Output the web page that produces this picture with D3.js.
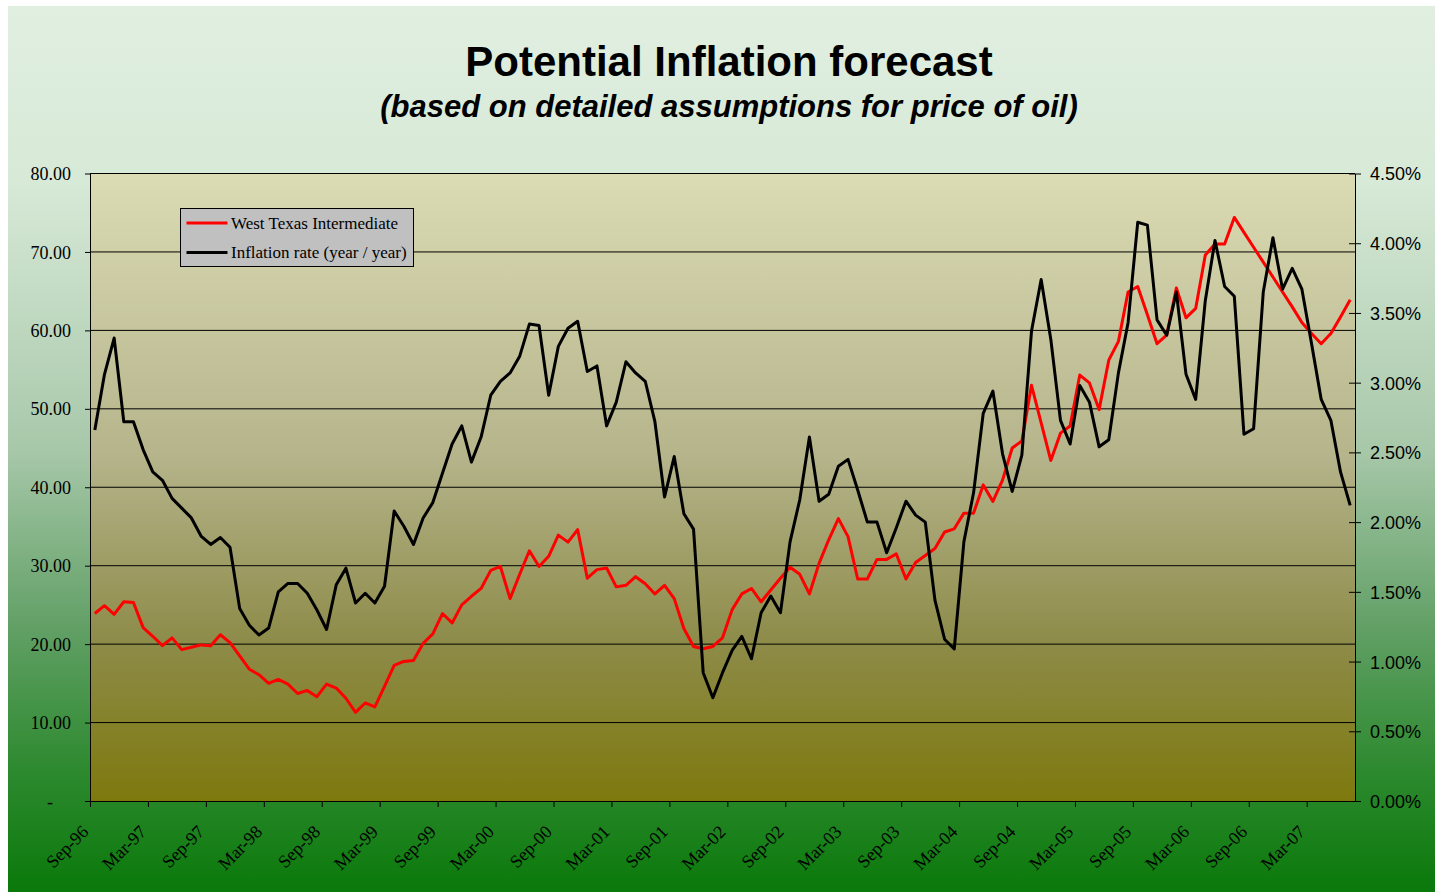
<!DOCTYPE html>
<html><head><meta charset="utf-8">
<script src="https://cdn.jsdelivr.net/npm/d3@7"></script>
<style>html,body{margin:0;padding:0;background:#fff;} svg{display:block;}</style>
</head><body>
<svg id="chart" width="1435" height="892"></svg>
<script>
// ---------- data ----------
const seriesNames = ["West Texas Intermediate", "Inflation rate (year / year)"];
const startMonth = new Date(1996, 8, 1);   // Sep-96
const endMonth = new Date(2007, 7, 1);     // exclusive -> last category Jul-07
const categories = d3.timeMonth.range(startMonth, endMonth);

const wti = [
  23.9, 24.9, 23.8, 25.4, 25.3, 22.1, 21.0, 19.8, 20.8, 19.3,
  19.6, 19.9, 19.8, 21.2, 20.2, 18.5, 16.8, 16.1, 15.0, 15.5,
  14.9, 13.7, 14.1, 13.3, 14.9, 14.4, 13.1, 11.3, 12.5, 12.0,
  14.6, 17.3, 17.8, 17.9, 20.1, 21.3, 23.9, 22.7, 25.0, 26.1,
  27.1, 29.4, 29.9, 25.8, 28.9, 31.9, 29.9, 31.2, 33.9, 33.0,
  34.6, 28.4, 29.5, 29.7, 27.3, 27.5, 28.6, 27.7, 26.4, 27.5,
  25.8, 22.0, 19.7, 19.4, 19.7, 20.8, 24.4, 26.4, 27.1, 25.4,
  26.9, 28.4, 29.8, 28.9, 26.4, 30.3, 33.3, 36.0, 33.7, 28.3,
  28.3, 30.8, 30.8, 31.5, 28.3, 30.4, 31.3, 32.2, 34.3, 34.7,
  36.7, 36.7, 40.3, 38.2, 40.9, 45.0, 45.9, 53.0, 48.2, 43.4,
  46.9, 47.8, 54.3, 53.3, 49.9, 56.2, 58.6, 64.9, 65.6, 62.0,
  58.3, 59.4, 65.4, 61.6, 62.8, 69.6, 71.0, 71.0, 74.4, 72.5,
  70.6, 68.7, 66.8, 64.9, 63.0, 61.0, 59.6, 58.3, 59.6, 61.7,
  63.9
];

const inflation = [
  2.66, 3.06, 3.32, 2.72, 2.72, 2.52, 2.36, 2.30, 2.17, 2.10,
  2.03, 1.90, 1.84, 1.89, 1.82, 1.38, 1.26, 1.19, 1.24, 1.50,
  1.56, 1.56, 1.49, 1.37, 1.23, 1.55, 1.67, 1.42, 1.49, 1.42,
  1.54, 2.08, 1.97, 1.84, 2.03, 2.14, 2.35, 2.56, 2.69, 2.43,
  2.61, 2.91, 3.01, 3.07, 3.19, 3.42, 3.41, 2.91, 3.26, 3.39,
  3.44, 3.08, 3.12, 2.69, 2.86, 3.15, 3.07, 3.01, 2.72, 2.18,
  2.47, 2.06, 1.95, 0.92, 0.74, 0.92, 1.08, 1.18, 1.02, 1.35,
  1.47, 1.35, 1.86, 2.16, 2.61, 2.15, 2.20, 2.40, 2.45, 2.23,
  2.00, 2.00, 1.78, 1.96, 2.15, 2.05, 2.00, 1.44, 1.16, 1.09,
  1.86, 2.21, 2.78, 2.94, 2.49, 2.22, 2.48, 3.37, 3.74, 3.31,
  2.73, 2.56, 2.98, 2.86, 2.54, 2.59, 3.07, 3.43, 4.15, 4.13,
  3.45, 3.34, 3.65, 3.06, 2.88, 3.59, 4.02, 3.69, 3.62, 2.63,
  2.67, 3.65, 4.04, 3.67, 3.82, 3.67, 3.28, 2.88, 2.73, 2.36,
  2.12
];

const xTickLabels = ["Sep-96","Mar-97","Sep-97","Mar-98","Sep-98","Mar-99","Sep-99","Mar-00",
  "Sep-00","Mar-01","Sep-01","Mar-02","Sep-02","Mar-03","Sep-03","Mar-04","Sep-04","Mar-05",
  "Sep-05","Mar-06","Sep-06","Mar-07"];
const leftTickValues = [0, 10, 20, 30, 40, 50, 60, 70, 80];
const leftTickLabels = ["-", "10.00", "20.00", "30.00", "40.00", "50.00", "60.00", "70.00", "80.00"];
const rightTickValues = [0, 0.5, 1, 1.5, 2, 2.5, 3, 3.5, 4, 4.5];
const rightTickLabels = ["0.00%","0.50%","1.00%","1.50%","2.00%","2.50%","3.00%","3.50%","4.00%","4.50%"];

// ---------- layout ----------
const W = 1435, H = 892;
const plot = {left: 90, right: 1355, top: 173.5, bottom: 801};
const svg = d3.select("#chart");
const defs = svg.append("defs");

const bgGrad = defs.append("linearGradient").attr("id","bgGrad").attr("x1",0).attr("y1",0).attr("x2",0).attr("y2",1);
[[0,"#e1efe1"],[0.2,"#d7e9d7"],[0.5,"#a8c8aa"],[0.7,"#62a066"],[0.86,"#2e8a30"],[1,"#0a790a"]]
  .forEach(([o,c]) => bgGrad.append("stop").attr("offset",o).attr("stop-color",c));
const plotGrad = defs.append("linearGradient").attr("id","plotGrad").attr("x1",0).attr("y1",0).attr("x2",0).attr("y2",1);
[[0,"#dbdbb4"],[0.45,"#b5b48b"],[0.75,"#8d8b48"],[1,"#7e790e"]]
  .forEach(([o,c]) => plotGrad.append("stop").attr("offset",o).attr("stop-color",c));

svg.append("rect").attr("x",8).attr("y",6).attr("width",W-8).attr("height",H-6).attr("fill","url(#bgGrad)");
svg.append("rect").attr("x",plot.left).attr("y",plot.top)
  .attr("width",plot.right-plot.left).attr("height",plot.bottom-plot.top).attr("fill","url(#plotGrad)");

// ---------- scales ----------
const x = d3.scaleLinear().domain([0, categories.length]).range([plot.left, plot.right]);
const yL = d3.scaleLinear().domain([0, 80]).range([plot.bottom, plot.top]);
const yR = d3.scaleLinear().domain([0, 4.5]).range([plot.bottom, plot.top]);

// gridlines
svg.append("g").selectAll("line").data(leftTickValues.filter(d => d > 0)).join("line")
  .attr("x1", plot.left).attr("x2", plot.right)
  .attr("y1", d => yL(d)).attr("y2", d => yL(d))
  .attr("stroke", "#000").attr("stroke-width", 1);

// ---------- axes ----------
const serif = "'Liberation Serif','Times New Roman',serif";
const sans = "'Liberation Sans',Arial,sans-serif";

const gL = svg.append("g").attr("transform", `translate(${plot.left},0)`)
  .call(d3.axisLeft(yL).tickValues(leftTickValues).tickFormat((d,i) => leftTickLabels[i]).tickSize(5).tickSizeOuter(0).tickPadding(14));
gL.selectAll("text").attr("font-family", serif).attr("font-size", 18).attr("fill","#000").attr("dy","0.34em");
gL.selectAll(".tick").filter(d => d === 0).select("text").attr("x", -37);

const gR = svg.append("g").attr("transform", `translate(${plot.right},0)`)
  .call(d3.axisRight(yR).tickValues(rightTickValues).tickFormat((d,i) => rightTickLabels[i]).tickSize(6).tickSizeOuter(0).tickPadding(9));
gR.selectAll(".tick line").attr("x1", -6);
gR.selectAll("text").attr("font-family", sans).attr("font-size", 18).attr("fill","#000").attr("dy","0.36em");

const xTickIdx = d3.range(0, categories.length, 6);
const gX = svg.append("g").attr("transform", `translate(0,${plot.bottom})`)
  .call(d3.axisBottom(x).tickValues(xTickIdx).tickFormat((d,i) => xTickLabels[i]).tickSize(6).tickSizeOuter(0));
gX.selectAll("text").attr("font-family", serif).attr("font-size", 18).attr("fill","#000")
  .attr("x", 0).attr("y", 0).attr("dy", 0).attr("text-anchor","end")
  .attr("transform","translate(-1,32) rotate(-45)");

[gL, gR, gX].forEach(g => {
  g.select(".domain").attr("stroke","#000").attr("stroke-width",1);
  g.selectAll(".tick line").attr("stroke","#000").attr("stroke-width",1);
});

// ---------- lines ----------
const lineW = d3.line().x((d,i) => x(i + 0.5)).y(d => yL(d));
const lineI = d3.line().x((d,i) => x(i + 0.5)).y(d => yR(d));
svg.append("path").datum(wti).attr("d", lineW).attr("fill","none")
  .attr("stroke","#ff0000").attr("stroke-width",3).attr("stroke-linejoin","round");
svg.append("path").datum(inflation).attr("d", lineI).attr("fill","none")
  .attr("stroke","#000").attr("stroke-width",3).attr("stroke-linejoin","round");

// ---------- legend ----------
const lg = svg.append("g").attr("transform","translate(180.5,208.5)");
lg.append("rect").attr("width",233).attr("height",58).attr("fill","#c0c0c0").attr("stroke","#000").attr("stroke-width",1);
const legendColors = ["#ff0000", "#000000"];
seriesNames.forEach((name, i) => {
  const yy = 14.5 + i * 29.5;
  lg.append("line").attr("x1",6).attr("x2",47).attr("y1",yy).attr("y2",yy)
    .attr("stroke",legendColors[i]).attr("stroke-width",3);
  lg.append("text").attr("x",50.5).attr("y",yy + 5.5).text(name)
    .attr("font-family", serif).attr("font-size", 17).attr("fill","#000");
});

// ---------- titles ----------
svg.append("text").attr("x",729).attr("y",76).attr("text-anchor","middle")
  .attr("font-family", sans).attr("font-weight","bold").attr("font-size",42)
  .text("Potential Inflation forecast");
svg.append("text").attr("x",729).attr("y",117).attr("text-anchor","middle")
  .attr("font-family", sans).attr("font-weight","bold").attr("font-style","italic").attr("font-size",31)
  .text("(based on detailed assumptions for price of oil)");
</script>
</body></html>
